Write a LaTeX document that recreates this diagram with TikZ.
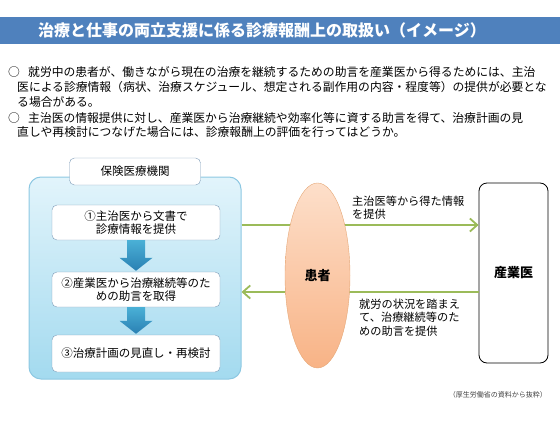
\documentclass[tikz,border=0pt]{standalone}
\usepackage{fontspec}
\setmainfont{Noto Sans CJK JP}
\usetikzlibrary{arrows.meta, positioning, shapes.geometric, calc}
\definecolor{cbar}{HTML}{4F81BD}
\definecolor{cgreen}{HTML}{9BBB59}
\definecolor{cframe}{HTML}{8DC8E2}
\definecolor{cframet}{HTML}{E2F4FB}
\definecolor{cframeb}{HTML}{A3DAEF}
\definecolor{cstep}{HTML}{7F9DB9}
\definecolor{cdownt}{HTML}{4AB0D6}
\definecolor{cdownb}{HTML}{2A80B3}
\definecolor{cpeach}{HTML}{F8B386}
\definecolor{cpeachl}{HTML}{FDDFCA}
\definecolor{cpeachd}{HTML}{E5A878}

\begin{document}
\begin{tikzpicture}[
  x=1pt, y=-1pt,
  font=\fontsize{11.5}{13.5}\selectfont,
  txt/.style={anchor=west, inner sep=0pt, font=\fontsize{11.8}{14}\selectfont},
  lbl/.style={anchor=north west, inner sep=0pt, align=left,
              font=\fontsize{11.2}{13.5}\selectfont},
  frame/.style={draw=cframe, line width=1pt, rounded corners=12pt,
                top color=cframet, bottom color=cframeb,
                minimum width=212pt, minimum height=202pt},
  headbox/.style={draw=cstep, fill=white, rounded corners=5pt,
                  minimum width=131pt, minimum height=27pt},
  stepbox/.style={draw=cstep, fill=white, rounded corners=5pt, align=center,
                  minimum width=168pt, minimum height=35pt},
  grarr/.style={-{Straight Barb[length=2.6mm, width=4.6mm]}, draw=cgreen,
                line width=1.8pt},
  ]
\useasboundingbox (0,0) rectangle (560,423);

% title bar
\node[fill=cbar, inner sep=0pt, minimum width=560pt, minimum height=27pt]
  (bar) at (280,30.5) {};
\node[text=white, font=\fontsize{16}{18}\selectfont\bfseries] (title) at (262,30.5)
  {治療と仕事の両立支援に係る診療報酬上の取扱い（イメージ）};

% bullet text
\node[txt] (b1) at (8,72.5) {○};
\node[txt] (l1) at (28,72.5) {就労中の患者が、働きながら現在の治療を継続するための助言を産業医から得るためには、主治};
\node[txt] (l2) at (17,87.5) {医による診療情報（病状、治療スケジュール、想定される副作用の内容・程度等）の提供が必要とな};
\node[txt] (l3) at (17,102) {る場合がある。};
\node[txt] (b2) at (8,118) {○};
\node[txt] (l4) at (28,118) {主治医の情報提供に対し、産業医から治療継続や効率化等に資する助言を得て、治療計画の見};
\node[txt] (l5) at (17,132.5) {直しや再検討につなげた場合には、診療報酬上の評価を行ってはどうか。};

% insurance medical institution
\node[frame] (kikan) at (135,278) {};
\node[headbox] (kikanlbl) at (135,171.5) {保険医療機関};
\node[stepbox] (s1) at (136,222.5) {①主治医から文書で\\診療情報を提供};
\node[stepbox] (s2) at (136,289.5) {②産業医から治療継続等のた\\めの助言を取得};
\node[stepbox, minimum height=37pt] (s3) at (136,353.5) {③治療計画の見直し・再検討};

\foreach \a/\b in {s1/s2, s2/s3}
  \shade[top color=cdownt, bottom color=cdownb]
    ($(\a.south)+(-9,0)$) -- ($(\b.north)+(-9,-14)$) -- ++(-7.5,0)
    -- ($(\b.north)+(0,-1)$) -- ($(\b.north)+(16.5,-14)$) -- ++(-7.5,0)
    -- ($(\a.south)+(9,0)$) -- cycle;

% occupational physician
\node[draw, line width=0.8pt, rounded corners=8pt, minimum width=69pt,
      minimum height=180pt, font=\fontsize{13}{15}\selectfont\bfseries]
  (sangyoui) at (513.5,273) {産業医};

\draw[grarr] ([yshift=-2.5pt]s1.east -| kikan.east) -- ([yshift=-2.5pt]s1.east -| sangyoui.west);
\draw[grarr] ([yshift=-2.5pt]s2.east -| sangyoui.west) -- ([yshift=-2.5pt]s2.east -| kikan.east);

% patient
\node[ellipse, draw=cpeachd, top color=cpeachl, bottom color=cpeach,
      minimum width=65pt, minimum height=185pt,
      font=\fontsize{13}{15}\selectfont\bfseries]
  (kanja) at (317.5,275.5) {患者};

\node[lbl] (info) at (352,195.5) {主治医等から得た情報\\を提供};
\node[lbl] (advice) at (359,298.5) {就労の状況を踏まえ\\て、治療継続等のた\\めの助言を提供};

\node[anchor=east, inner sep=0pt, text=black!75, font=\fontsize{7}{8}\selectfont]
  (src) at (547,395) {（厚生労働省の資料から抜粋）};
\end{tikzpicture}
\end{document}
